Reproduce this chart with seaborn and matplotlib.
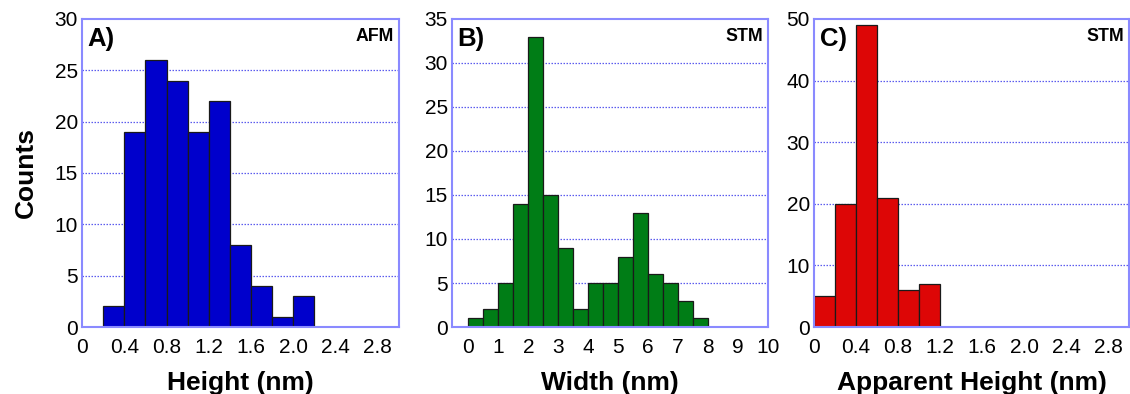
import numpy as np
import pandas as pd
import matplotlib
matplotlib.use("Agg")
import matplotlib.pyplot as plt
import seaborn as sns

# ---- data ----
afm_edges = [0.2, 0.4, 0.6, 0.8, 1.0, 1.2, 1.4, 1.6, 1.8, 2.0, 2.2]
afm_counts = [2, 19, 26, 24, 19, 22, 8, 4, 1, 3]

stm_w_edges = [0, 0.5, 1, 1.5, 2, 2.5, 3, 3.5, 4, 4.5, 5, 5.5, 6, 6.5, 7, 7.5, 8]
stm_w_counts = [1, 2, 5, 14, 33, 15, 9, 2, 5, 5, 8, 13, 6, 5, 3, 1]

stm_h_edges = [0, 0.2, 0.4, 0.6, 0.8, 1.0, 1.2]
stm_h_counts = [5, 20, 49, 21, 6, 7]

h_ticks = [0, 0.4, 0.8, 1.2, 1.6, 2.0, 2.4, 2.8]
h_ticklabels = ["0", "0.4", "0.8", "1.2", "1.6", "2.0", "2.4", "2.8"]
w_ticks = [0, 1, 2, 3, 4, 5, 6, 7, 8, 9, 10]

sns.set_theme(style="white")
plt.rcParams["font.family"] = ["Liberation Sans", "DejaVu Sans"]
plt.rcParams["text.color"] = "black"
plt.rcParams["axes.labelcolor"] = "black"

fig = plt.figure(figsize=(11.3, 3.94), dpi=100)
bottom, height = 0.170, 0.782
axA = fig.add_axes([0.0726, bottom, 0.2805, height])
axB = fig.add_axes([0.400, bottom, 0.2796, height])
axC = fig.add_axes([0.7204, bottom, 0.2788, height])

spine_col = "#8a8aff"
grid_col = "#5c5cee"

panels = [
    (axA, afm_edges, afm_counts, "#0000cc", (0, 3.0), (0, 30), [0, 5, 10, 15, 20, 25, 30],
     h_ticks, h_ticklabels, "Height (nm)", "A)", "AFM"),
    (axB, stm_w_edges, stm_w_counts, "#007d16", (-0.55, 10), (0, 35), [0, 5, 10, 15, 20, 25, 30, 35],
     w_ticks, [str(t) for t in w_ticks], "Width (nm)", "B)", "STM"),
    (axC, stm_h_edges, stm_h_counts, "#dd0606", (0, 3.0), (0, 50), [0, 10, 20, 30, 40, 50],
     h_ticks, h_ticklabels, "Apparent Height (nm)", "C)", "STM"),
]

for ax, edges, counts, col, xl, yl, yt, xt, xtl, xlabel, tag, tech in panels:
    centers = [(edges[i] + edges[i + 1]) / 2 for i in range(len(counts))]
    df = pd.DataFrame({"x": centers, "w": counts})
    sns.histplot(data=df, x="x", weights="w", bins=edges, ax=ax,
                 color=col, alpha=1.0, edgecolor="#1a1a1a", linewidth=0.9)
    ax.set_xlim(*xl)
    ax.set_ylim(*yl)
    ax.set_yticks(yt)
    ax.set_xticks(xt)
    ax.set_xticklabels(xtl)
    for y in yt[1:-1]:
        ax.axhline(y, color=grid_col, linestyle=(0, (1.2, 1.2)), linewidth=0.9, zorder=0)
    for s in ax.spines.values():
        s.set_color(spine_col)
        s.set_linewidth(1.5)
    ax.tick_params(axis="y", length=0, labelsize=15, pad=3, colors="black")
    ax.tick_params(axis="x", length=0, labelsize=15, pad=8, colors="black")
    ax.set_xlabel(xlabel, fontsize=19, fontweight="bold", labelpad=10, color="black")
    ax.set_ylabel("")
    ax.text(0.018, 0.975, tag, transform=ax.transAxes, fontsize=18.5, fontweight="bold",
            ha="left", va="top", color="black")
    ax.text(0.985, 0.97, tech, transform=ax.transAxes, fontsize=12.8, fontweight="bold",
            ha="right", va="top", color="black")

axA.set_ylabel("Counts", fontsize=19, fontweight="bold", labelpad=12, color="black")

fig.savefig("out.png", dpi=100)
